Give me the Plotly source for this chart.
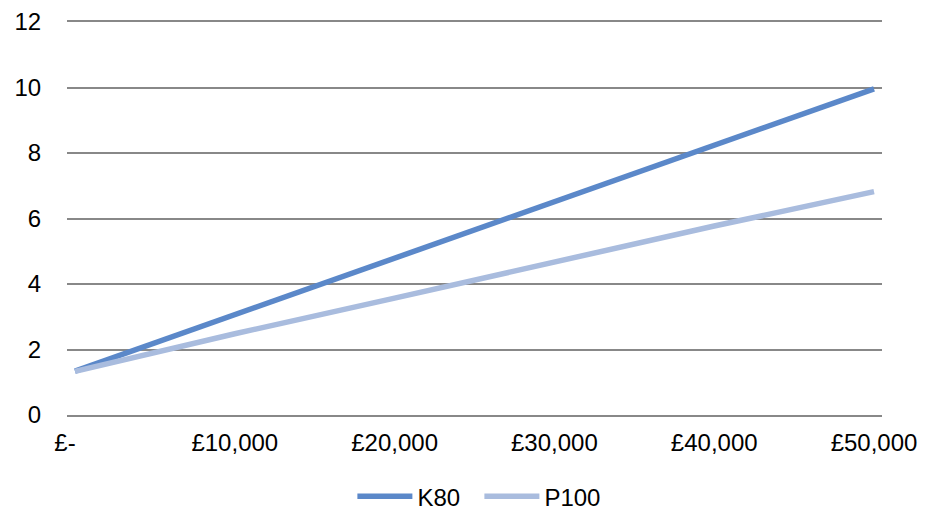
import plotly.graph_objects as go

# Cost on the x axis (GBP), value on the y axis
cost = [0, 10000, 20000, 30000, 40000, 50000]
k80 = [1.34, 3.06, 4.79, 6.51, 8.24, 9.96]
p100 = [1.33, 2.48, 3.57, 4.67, 5.77, 6.82]

x_tick_vals = [0, 10000, 20000, 30000, 40000, 50000]
x_tick_text = ["£-\u00a0\u00a0\u00a0", "£10,000", "£20,000", "£30,000", "£40,000", "£50,000"]
y_tick_vals = [0, 2, 4, 6, 8, 10, 12]

FONT = "Liberation Sans, Arial, sans-serif"
GRID = "#888888"

fig = go.Figure()
fig.add_trace(go.Scatter(x=cost, y=k80, name="K80", mode="lines",
                         line=dict(color="#5b88c9", width=5.5)))
fig.add_trace(go.Scatter(x=cost, y=p100, name="P100", mode="lines",
                         line=dict(color="#a9bcde", width=5.5)))

fig.update_layout(
    width=939, height=512,
    margin=dict(l=67, r=57, t=22, b=97, autoexpand=False),
    paper_bgcolor="white", plot_bgcolor="white",
    font=dict(family=FONT, size=24, color="#000000"),
    showlegend=True,
    legend=dict(orientation="h", x=0.506, xanchor="center",
                yref="container", y=0.03, yanchor="middle",
                itemwidth=55, entrywidth=57, entrywidthmode="pixels",
                font=dict(size=24), traceorder="normal"),
    xaxis=dict(range=[-500, 50500], tickmode="array", tickvals=x_tick_vals,
               ticktext=x_tick_text, showgrid=False, zeroline=False,
               showline=True, mirror=True, linecolor=GRID, linewidth=1.6,
               ticks="outside", ticklen=5, tickcolor="rgba(0,0,0,0)",
               tickfont=dict(size=24)),
    yaxis=dict(range=[0, 12], tickmode="array", tickvals=y_tick_vals,
               showgrid=True, gridcolor=GRID, gridwidth=1.6, zeroline=False,
               showline=False, ticks="outside", ticklen=20,
               tickcolor="rgba(0,0,0,0)", tickfont=dict(size=24)),
)

fig.write_html("out.html")
